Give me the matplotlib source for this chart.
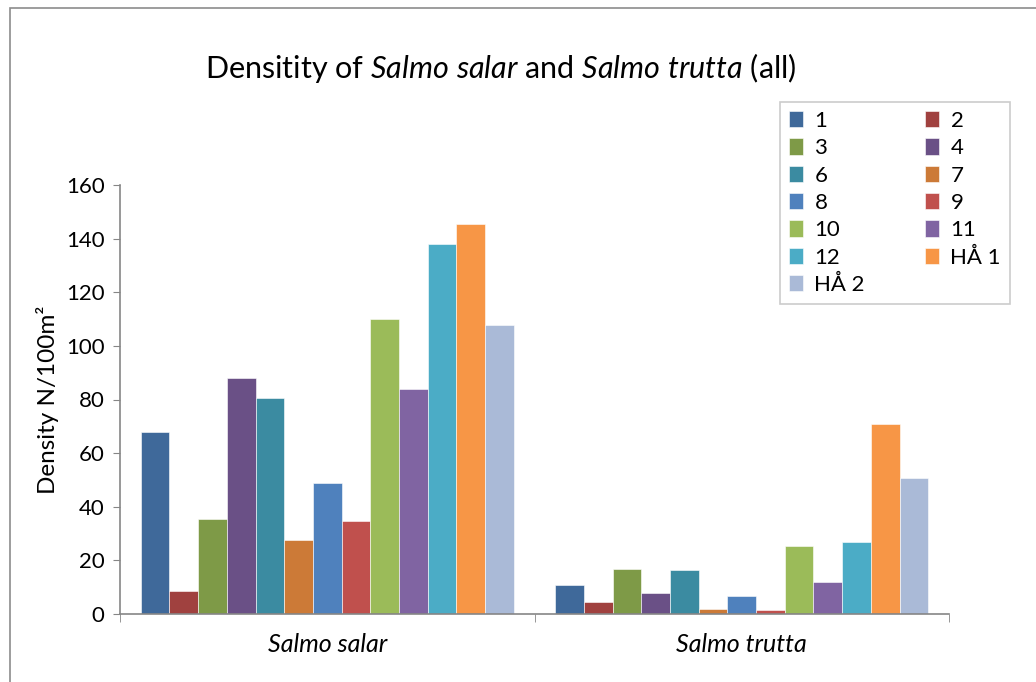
import matplotlib
matplotlib.use("Agg")
import matplotlib.pyplot as plt
import numpy as np
from matplotlib.patches import Rectangle

plt.rcParams['font.family'] = ['Lato', 'DejaVu Sans']
plt.rcParams['mathtext.fontset'] = 'custom'
plt.rcParams['mathtext.rm'] = 'Lato'
plt.rcParams['mathtext.it'] = 'Lato:italic'

species = ['Salmo salar', 'Salmo trutta']
sites = ['1', '2', '3', '4', '6', '7', '8', '9', '10', '11', '12', 'HÅ 1', 'HÅ 2']
salar = [67.7, 8.6, 35.6, 88.2, 80.4, 27.7, 49.0, 34.5, 110.0, 84.1, 138.0, 145.6, 107.9]
trutta = [10.8, 4.5, 16.7, 7.8, 16.5, 1.9, 6.6, 1.5, 25.3, 11.9, 27.0, 70.7, 50.9]
colors = ['#3F699A', '#A0413F', '#7E9A47', '#6A5086', '#3B8BA1', '#CC7A37',
          '#4F81BD', '#C0504D', '#9BBB59', '#8064A2', '#4BACC6', '#F79646', '#AABAD7']

fig = plt.figure(figsize=(10.36, 6.82), dpi=100)
# chart area frame
fig.patches.append(Rectangle((10 / 1036, -0.05), 1.1, 1 - 8 / 682 + 0.05,
                             transform=fig.transFigure, fill=False,
                             edgecolor='#8C8C8C', linewidth=1.2))

ax = fig.add_axes([120 / 1036, 1 - 614 / 682, (949 - 120) / 1036, (614 - 185) / 682])

n = len(sites)
group_w = 0.9
bw = group_w / n
x = np.arange(len(species))
handles = []
for i, site in enumerate(sites):
    vals = [salar[i], trutta[i]]
    pos = x - group_w / 2 + bw * (i + 0.5)
    b = ax.bar(pos, vals, width=bw, color=colors[i], edgecolor='white',
               linewidth=0.4, label=site)
    handles.append(b)

ax.set_xlim(-0.5, 1.5)
ax.set_ylim(0, 160)
ax.set_yticks(range(0, 161, 20))
ax.tick_params(axis='y', labelsize=16, length=5, color='#868686', direction='out', pad=6)
ax.set_xticks([-0.5, 0.5, 1.5], minor=True)
ax.set_xticks(x)
ax.set_xticklabels(species, fontstyle='italic', fontsize=18)
ax.tick_params(axis='x', which='major', length=0, pad=14)
ax.tick_params(axis='x', which='minor', length=6, color='#868686')
for s in ['top', 'right']:
    ax.spines[s].set_visible(False)
for s in ['left', 'bottom']:
    ax.spines[s].set_color('#868686')
    ax.spines[s].set_linewidth(1.2)

ax.set_ylabel('Density N/100m²', fontsize=17.5, labelpad=5)

fig.text(501 / 1036, 1 - 68 / 682,
         r'Densitity of $\it{Salmo\ salar}$ and $\it{Salmo\ trutta}$ (all)',
         ha='center', va='center', fontsize=22)

# legend filled row by row
order = list(range(0, n, 2)) + list(range(1, n, 2))
leg = fig.legend([handles[k] for k in order], [sites[k] for k in order],
                 ncol=2, loc='upper left', borderaxespad=0,
                 bbox_to_anchor=(780 / 1036, 1 - 102 / 682), fontsize=16,
                 frameon=True, fancybox=False, edgecolor='#BFBFBF',
                 handlelength=0.65, handleheight=0.75, handletextpad=0.5,
                 columnspacing=2.7, labelspacing=0.33, borderpad=0.4)
leg.get_frame().set_linewidth(1.2)

fig.savefig('out.png', dpi=100)
